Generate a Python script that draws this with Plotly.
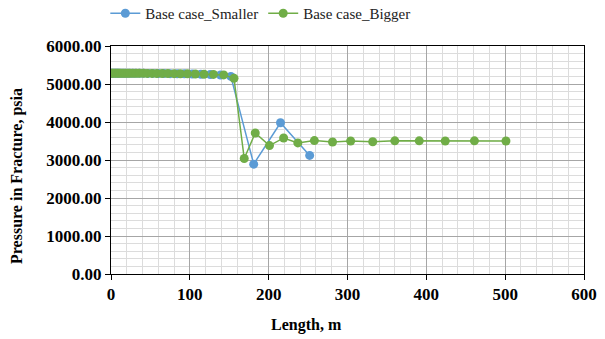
import plotly.graph_objects as go

# Base case_Smaller
small_x = [0, 2, 4, 6, 8, 10, 13, 16, 19, 23, 27, 31, 36, 41, 47, 53, 60, 67, 75, 84, 93, 103, 114, 126, 139, 152, 181, 215, 252]
small_y = [5285, 5285, 5285, 5285, 5285, 5284, 5284, 5284, 5283, 5283, 5282, 5282, 5281, 5280, 5279, 5278, 5277, 5275, 5273, 5270, 5267, 5263, 5258, 5250, 5238, 5200, 2890, 3980, 3120]

# Base case_Bigger
big_x = [0, 2, 4, 6, 8, 10, 12, 15, 18, 21, 24, 28, 32, 36, 41, 46, 52, 58, 65, 72, 80, 88, 97, 107, 118, 130, 143, 156,
         169, 183, 201, 219, 237, 258, 281, 304, 332, 360, 391, 424, 461, 501]
big_y = [5285, 5285, 5285, 5285, 5285, 5285, 5284, 5284, 5284, 5283, 5283, 5282, 5282, 5281, 5280, 5279, 5278, 5277, 5276, 5274, 5272, 5270, 5267, 5263, 5258, 5252, 5240, 5150,
         3040, 3710, 3380, 3580, 3450, 3510, 3475, 3500, 3480, 3505, 3505, 3500, 3505, 3500]

x_ticks = [0, 100, 200, 300, 400, 500, 600]
y_ticks = [0, 1000, 2000, 3000, 4000, 5000, 6000]

SERIF = "Liberation Serif, Times New Roman, serif"

fig = go.Figure()
fig.add_trace(go.Scatter(x=small_x, y=small_y, mode="lines+markers", name="Base case_Smaller",
                         line=dict(color="#5B9BD5", width=1.5),
                         marker=dict(color="#5B9BD5", size=9)))
fig.add_trace(go.Scatter(x=big_x, y=big_y, mode="lines+markers", name="Base case_Bigger",
                         line=dict(color="#70AD47", width=1.5),
                         marker=dict(color="#70AD47", size=9)))

axis_common = dict(showline=True, linecolor="black", linewidth=1, mirror=True,
                   ticks="outside", ticklen=5, tickcolor="black",
                   showgrid=True, gridcolor="#a6a6a6", gridwidth=1, zeroline=False,
                   tickfont=dict(family=SERIF, size=17, color="black", weight="bold"))

fig.update_xaxes(range=[0, 600], tickvals=x_ticks, ticktext=[str(v) for v in x_ticks],
                 minor=dict(dtick=20, showgrid=True, gridcolor="#dcdcdc", gridwidth=1), **axis_common)
fig.update_yaxes(range=[0, 6000], tickvals=y_ticks, ticktext=[f"{v:.2f}" for v in y_ticks],
                 minor=dict(dtick=200, showgrid=True, gridcolor="#dcdcdc", gridwidth=1), **axis_common)

fig.update_layout(
    width=605, height=339,
    margin=dict(l=111, r=21, t=46, b=65, autoexpand=False),
    paper_bgcolor="white", plot_bgcolor="white",
    showlegend=True,
    legend=dict(orientation="h", x=-0.012, y=(274 + 3) / 228, xanchor="left", yanchor="top",
                font=dict(family=SERIF, size=15, color="#222"),
                bgcolor="rgba(0,0,0,0)", tracegroupgap=0, itemwidth=30),
    annotations=[
        dict(text="<b>Length, m</b>", xref="paper", yref="paper", x=(306 - 111) / 473, y=-(325 - 274) / 228,
             xanchor="center", yanchor="middle", showarrow=False,
             font=dict(family=SERIF, size=16, color="black")),
        dict(text="<b>Pressure in Fracture, psia</b>", xref="paper", yref="paper", x=(17 - 111) / 473,
             y=(274 - 176) / 228, xanchor="center", yanchor="middle", textangle=-90, showarrow=False,
             font=dict(family=SERIF, size=16, color="black")),
    ],
)

fig.write_html("out.html")
